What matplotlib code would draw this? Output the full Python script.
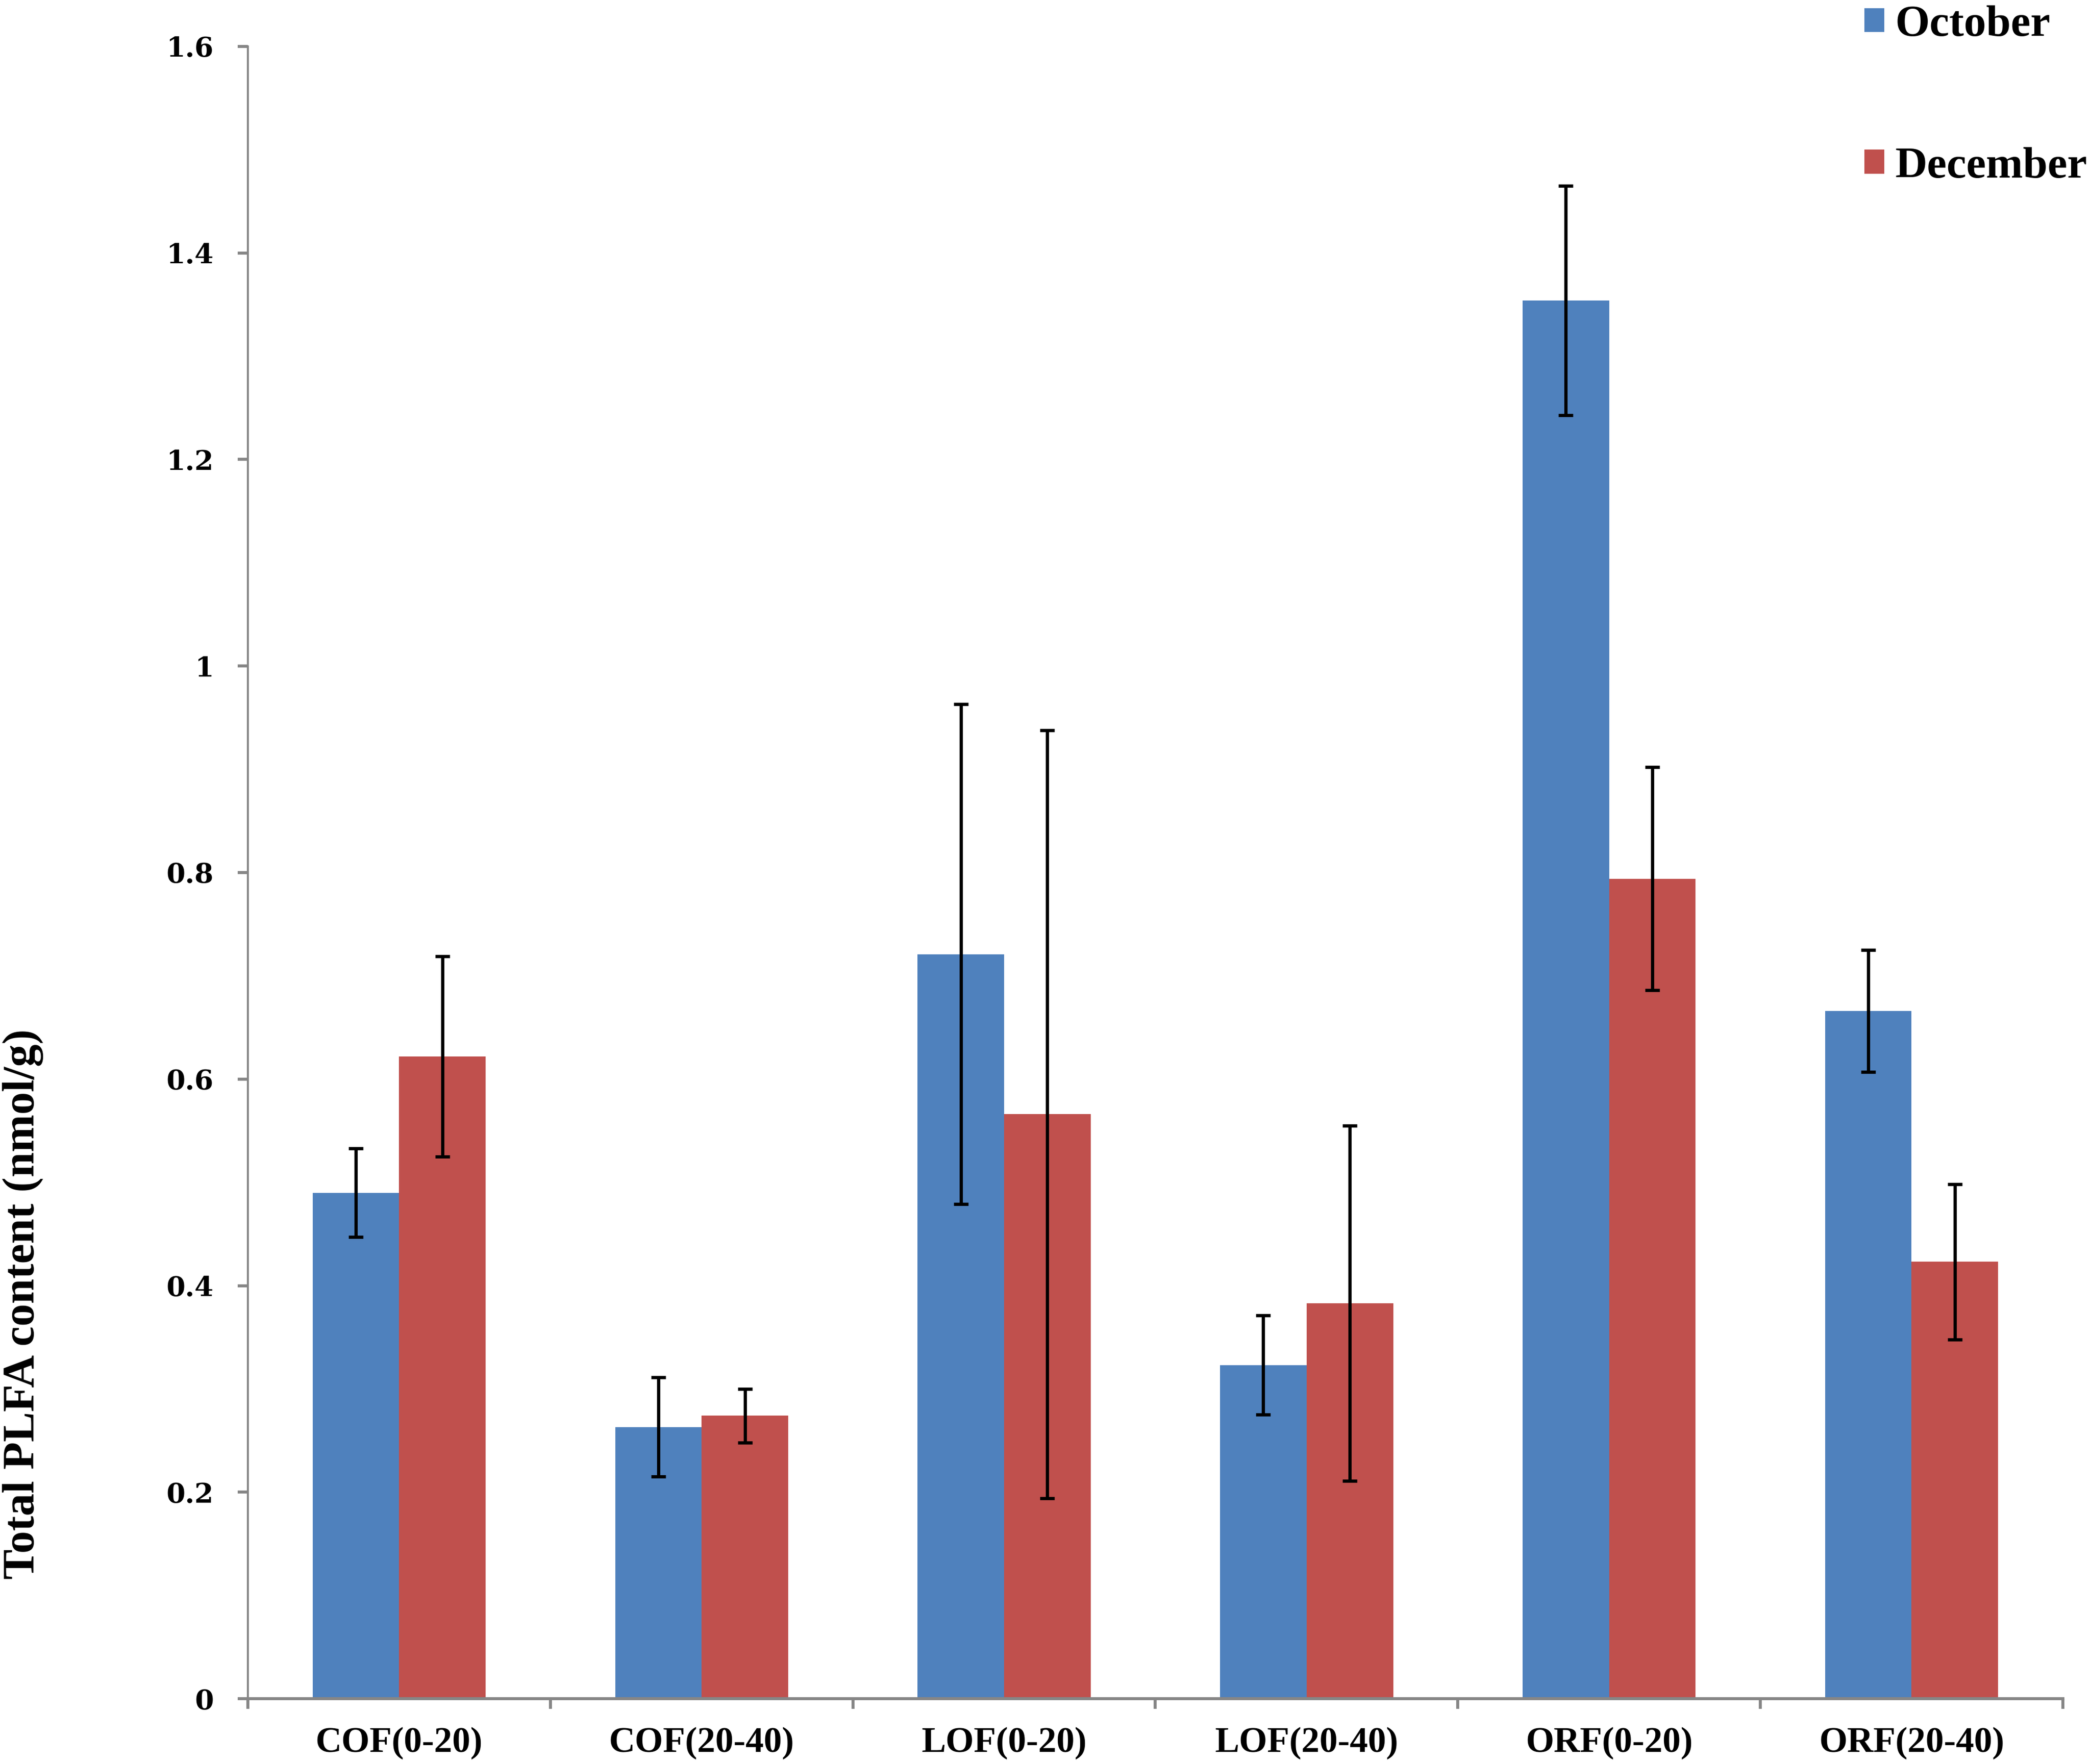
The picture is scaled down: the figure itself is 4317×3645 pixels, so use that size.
import matplotlib
matplotlib.use("Agg")
import matplotlib.pyplot as plt
import numpy as np
from matplotlib.patches import Patch

categories = ["COF(0-20)", "COF(20-40)", "LOF(0-20)", "LOF(20-40)", "ORF(0-20)", "ORF(20-40)"]
october = [0.490, 0.263, 0.721, 0.323, 1.354, 0.666]
october_err = [0.043, 0.048, 0.242, 0.048, 0.111, 0.059]
december = [0.622, 0.274, 0.566, 0.383, 0.794, 0.423]
december_err = [0.097, 0.026, 0.372, 0.172, 0.108, 0.075]
yticks = [0, 0.2, 0.4, 0.6, 0.8, 1, 1.2, 1.4, 1.6]
ytick_labels = ["0", "0.2", "0.4", "0.6", "0.8", "1", "1.2", "1.4", "1.6"]

blue = "#4F81BD"
red = "#C0504D"
axis_gray = "#868686"
serif = ["Liberation Serif", "DejaVu Serif"]

fig = plt.figure(figsize=(4317/300, 3645/300), dpi=300)
ax = fig.add_axes([0.1186, 0.037, 0.987 - 0.1186, 0.9737 - 0.037])

x = np.arange(len(categories))
w = 0.286
ax.bar(x - w/2, october, width=w, color=blue, zorder=2)
ax.bar(x + w/2, december, width=w, color=red, zorder=2)
ax.errorbar(x - w/2, october, yerr=october_err, fmt="none", ecolor="black",
            elinewidth=1.6, capsize=3.6, capthick=1.6, zorder=3)
ax.errorbar(x + w/2, december, yerr=december_err, fmt="none", ecolor="black",
            elinewidth=1.6, capsize=3.6, capthick=1.6, zorder=3)

ax.set_xlim(-0.5, len(categories) - 0.5)
ax.set_ylim(0, 1.6)

for s in ["top", "right"]:
    ax.spines[s].set_visible(False)
ax.spines["left"].set_color(axis_gray)
ax.spines["left"].set_linewidth(1.0)
ax.spines["bottom"].set_color(axis_gray)
ax.spines["bottom"].set_linewidth(1.5)

ax.set_yticks(yticks)
ax.set_yticklabels(ytick_labels, fontfamily="DejaVu Serif", fontweight="bold", fontsize=13.5)
ax.tick_params(axis="y", direction="out", length=5, width=1.5, color=axis_gray, pad=12)

ax.set_xticks(x)
ax.set_xticklabels(categories, fontfamily=serif, fontweight="bold", fontsize=18)
ax.set_xticks(np.arange(-0.5, len(categories)), minor=True)
ax.tick_params(axis="x", which="major", length=0, pad=14)
ax.tick_params(axis="x", which="minor", direction="out", length=5, width=1.5, color=axis_gray)

fig.text(0.011, 0.2606, "Total PLFA content (nmol/g)", rotation=90, va="center", ha="center",
         fontfamily=serif, fontweight="bold", fontsize=22.4)

handles = [Patch(facecolor=blue, edgecolor="none", label="October"),
           Patch(facecolor=red, edgecolor="none", label="December")]
leg = fig.legend(handles=handles, loc="upper left", bbox_to_anchor=(0.892, 0.997),
                 frameon=False, borderpad=0, borderaxespad=0, labelspacing=2.3,
                 handlelength=0.45, handleheight=0.45, handletextpad=0.25,
                 prop={"family": serif, "weight": "bold", "size": 22})

fig.savefig("out.png", dpi=300, facecolor="white")
